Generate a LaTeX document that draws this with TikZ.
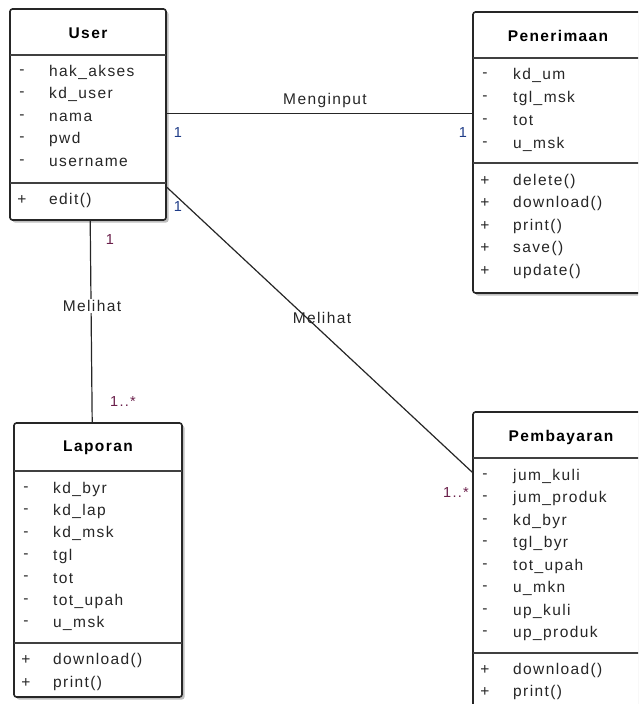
\documentclass[tikz,border=0pt]{standalone}
\usepackage{fontspec}
\setmainfont{Liberation Sans}[LetterSpace=9]
\usetikzlibrary{shadows,calc}
\definecolor{txt}{HTML}{262626}
\definecolor{mblue}{HTML}{1F3C88}
\definecolor{mred}{HTML}{6A1F4A}
\begin{document}
\begin{tikzpicture}[x=1pt,y=-1pt,
 cls/.style={draw=black!85, line width=1.6pt, fill=white, rounded corners=2.5pt, inner sep=0pt,
   drop shadow={shadow xshift=2.5pt, shadow yshift=-2.5pt, opacity=0.25, fill=black}},
 div/.style={draw=black!75, line width=1.1pt},
 ttl/.style={font=\fontsize{15.5}{18}\selectfont\bfseries, text=black, inner sep=0pt},
 atr/.style={font=\fontsize{15.5}{18}\selectfont, text=txt, anchor=west, inner sep=0pt},
 sym/.style={font=\fontsize{15.5}{18}\selectfont, text=txt, anchor=center, inner sep=0pt},
 con/.style={draw=black!85, line width=1.2pt},
 lbl/.style={font=\fontsize{15.5}{18}\selectfont, text=txt, inner sep=1.5pt},
 mb/.style={font=\fontsize{14.5}{16}\selectfont, text=mblue, inner sep=0pt},
 mr/.style={font=\fontsize{14.5}{16}\selectfont, text=mred, inner sep=0pt}]
\useasboundingbox (0,0) rectangle (638,704);
\clip (0,0) rectangle (638,704);

% ---- class boxes (outlines)
\node[cls, minimum width=156pt, minimum height=211pt] (user) at (88,114.5) {};
\node[cls, minimum width=170pt, minimum height=281pt] (pen) at (558,152.5) {};
\node[cls, minimum width=168pt, minimum height=274pt] (lap) at (98,560) {};
\node[cls, minimum width=176pt, minimum height=308pt] (pem) at (561,566) {};

% ---- connectors
\draw[con] ($(user.north east)+(0,105)$) -- ($(pen.north west)+(0,102)$);
\draw[con] ($(user.north east)+(0,179)$) -- ($(pem.north west)+(0,61)$);
\draw[con] ($(user.south west)+(81,0)$) -- ($(lap.north west)+(79,0)$);

% ---- User
\node[ttl] (userT) at (88,33) {User};
\draw[div] (10,55) -- (166,55);
\draw[div] (10,183) -- (166,183);
\foreach \t [count=\i] in {hak\_akses, kd\_user, nama, pwd, username}{
  \node[sym] (usd\i) at (22,{72+22.5*(\i-1)}) {-};
  \node[atr] (ua\i) at (49,{72+22.5*(\i-1)}) {\t};
}
\node[sym] (usp1) at (22,200) {+};
\node[atr] (um1) at (49,200) {edit()};

% ---- Penerimaan
\node[ttl] (penT) at (558,36) {Penerimaan};
\draw[div] (473,58) -- (643,58);
\draw[div] (473,163) -- (643,163);
\foreach \t [count=\i] in {kd\_um, tgl\_msk, tot, u\_msk}{
  \node[sym] (psd\i) at (485,{75+23*(\i-1)}) {-};
  \node[atr] (pa\i) at (513,{75+23*(\i-1)}) {\t};
}
\foreach \t [count=\i] in {delete(), download(), print(), save(), update()}{
  \node[sym] (psp\i) at (485,{181+22.5*(\i-1)}) {+};
  \node[atr] (pm\i) at (513,{181+22.5*(\i-1)}) {\t};
}

% ---- Laporan
\node[ttl] (lapT) at (98,448) {Laporan};
\draw[div] (14,471) -- (182,471);
\draw[div] (14,643) -- (182,643);
\foreach \t [count=\i] in {kd\_byr, kd\_lap, kd\_msk, tgl, tot, tot\_upah, u\_msk}{
  \node[sym] (lsd\i) at (26,{489+22.4*(\i-1)}) {-};
  \node[atr] (la\i) at (53,{489+22.4*(\i-1)}) {\t};
}
\foreach \t [count=\i] in {download(), print()}{
  \node[sym] (lsp\i) at (26,{660+23*(\i-1)}) {+};
  \node[atr] (lm\i) at (53,{660+23*(\i-1)}) {\t};
}

% ---- Pembayaran
\node[ttl] (pemT) at (561,437) {Pembayaran};
\draw[div] (473,458) -- (649,458);
\draw[div] (473,653) -- (649,653);
\foreach \t [count=\i] in {jum\_kuli, jum\_produk, kd\_byr, tgl\_byr, tot\_upah, u\_mkn, up\_kuli, up\_produk}{
  \node[sym] (bsd\i) at (485,{476+22.5*(\i-1)}) {-};
  \node[atr] (ba\i) at (513,{476+22.5*(\i-1)}) {\t};
}
\foreach \t [count=\i] in {download(), print()}{
  \node[sym] (bsp\i) at (485,{670+22*(\i-1)}) {+};
  \node[atr] (bm\i) at (513,{670+22*(\i-1)}) {\t};
}

% ---- association labels
\node[lbl] (l1) at (325,100) {Menginput};
\node[lbl, fill=white] (l2) at (92,306) {Melihat};
\node[lbl] (l3) at (322,318) {Melihat};

\node[mb] (m1) at (178,133) {1};
\node[mb] (m2) at (463,133) {1};
\node[mb] (m3) at (178,207) {1};
\node[mr] (m4) at (110,240) {1};
\node[mr] (m5) at (123,402) {1..*};
\node[mr] (m6) at (456,493) {1..*};
\end{tikzpicture}
\end{document}
